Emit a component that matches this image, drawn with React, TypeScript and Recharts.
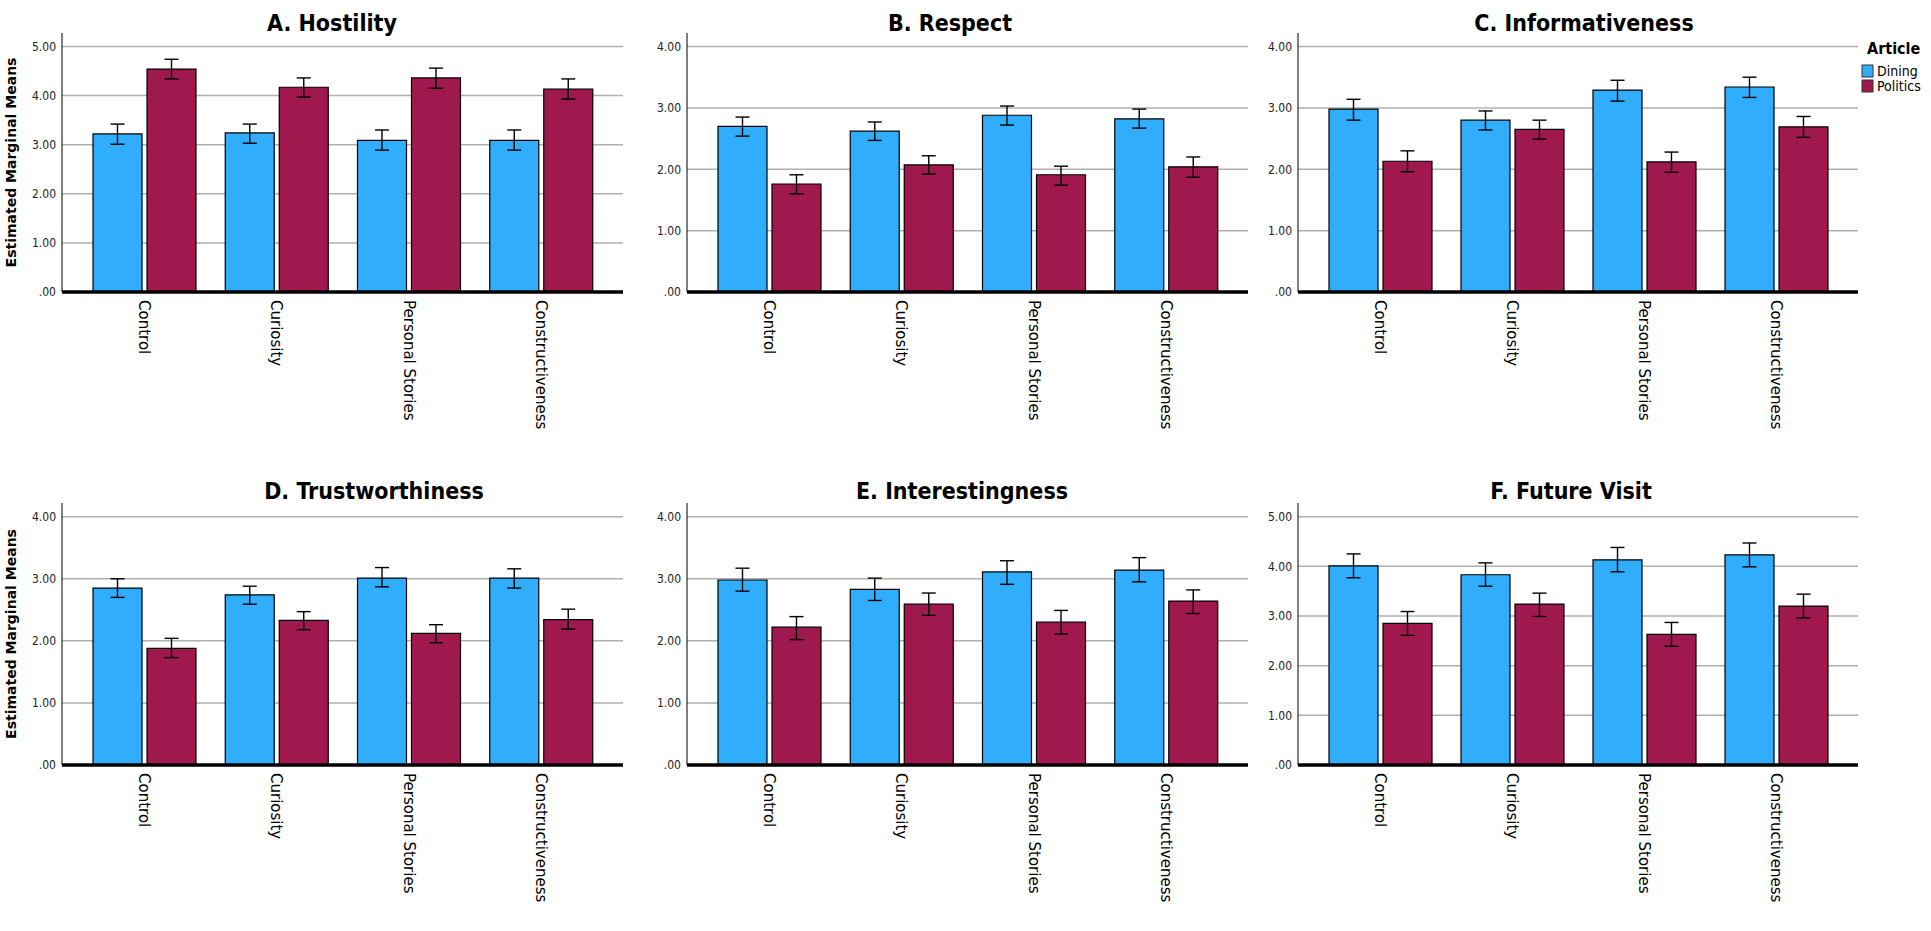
import React from "react";
import { BarChart, Bar, XAxis, YAxis, CartesianGrid, ErrorBar } from "recharts";

const categories = ["Control", "Curiosity", "Personal Stories", "Constructiveness"];

const hostilityDining = [3.22, 3.24, 3.09, 3.09];
const hostilityDiningCI = [[3.01, 3.42], [3.03, 3.42], [2.89, 3.3], [2.89, 3.3]];
const hostilityPolitics = [4.54, 4.17, 4.36, 4.13];
const hostilityPoliticsCI = [[4.34, 4.74], [3.97, 4.36], [4.15, 4.56], [3.93, 4.34]];

const respectDining = [2.7, 2.62, 2.88, 2.82];
const respectDiningCI = [[2.54, 2.85], [2.47, 2.77], [2.72, 3.03], [2.67, 2.98]];
const respectPolitics = [1.76, 2.07, 1.91, 2.04];
const respectPoliticsCI = [[1.6, 1.91], [1.92, 2.22], [1.74, 2.05], [1.87, 2.2]];

const informDining = [2.98, 2.8, 3.29, 3.34];
const informDiningCI = [[2.8, 3.14], [2.64, 2.95], [3.11, 3.45], [3.17, 3.5]];
const informPolitics = [2.13, 2.65, 2.12, 2.69];
const informPoliticsCI = [[1.96, 2.3], [2.49, 2.8], [1.95, 2.28], [2.52, 2.86]];

const trustDining = [2.85, 2.74, 3.01, 3.01];
const trustDiningCI = [[2.7, 3.0], [2.59, 2.88], [2.87, 3.18], [2.85, 3.16]];
const trustPolitics = [1.88, 2.33, 2.12, 2.34];
const trustPoliticsCI = [[1.73, 2.04], [2.18, 2.47], [1.97, 2.26], [2.19, 2.51]];

const interestDining = [2.98, 2.83, 3.11, 3.14];
const interestDiningCI = [[2.8, 3.17], [2.65, 3.01], [2.91, 3.29], [2.95, 3.34]];
const interestPolitics = [2.22, 2.59, 2.3, 2.64];
const interestPoliticsCI = [[2.02, 2.39], [2.41, 2.77], [2.11, 2.49], [2.44, 2.82]];

const visitDining = [4.01, 3.83, 4.13, 4.23];
const visitDiningCI = [[3.77, 4.25], [3.6, 4.07], [3.89, 4.38], [3.99, 4.47]];
const visitPolitics = [2.85, 3.24, 2.63, 3.2];
const visitPoliticsCI = [[2.61, 3.09], [2.99, 3.46], [2.39, 2.87], [2.96, 3.44]];

const ticksTo5 = [0, 1, 2, 3, 4, 5];
const ticksTo4 = [0, 1, 2, 3, 4];

const DINING = "#31adfd";
const POLITICS = "#a0194e";
const COND = "'DejaVu Sans Condensed', 'DejaVu Sans', sans-serif";
const SANS = "'DejaVu Sans', Verdana, sans-serif";

const cols = [
  { left: 0, width: 645, yWidth: 62, right: 22 },
  { left: 645, width: 620, yWidth: 42, right: 17 },
  { left: 1265, width: 666, yWidth: 33, right: 73 },
];
const rows = [
  { top: 0, height: 470, mTop: 33, mBottom: 38 },
  { top: 470, height: 461, mTop: 33, mBottom: 26 },
];

const panels = [
  { title: "A. Hostility", titleX: 332, dining: hostilityDining, diningCI: hostilityDiningCI, politics: hostilityPolitics, politicsCI: hostilityPoliticsCI, ticks: ticksTo5, row: 0, col: 0 },
  { title: "B. Respect", titleX: 950, dining: respectDining, diningCI: respectDiningCI, politics: respectPolitics, politicsCI: respectPoliticsCI, ticks: ticksTo4, row: 0, col: 1 },
  { title: "C. Informativeness", titleX: 1584, dining: informDining, diningCI: informDiningCI, politics: informPolitics, politicsCI: informPoliticsCI, ticks: ticksTo4, row: 0, col: 2 },
  { title: "D. Trustworthiness", titleX: 374, dining: trustDining, diningCI: trustDiningCI, politics: trustPolitics, politicsCI: trustPoliticsCI, ticks: ticksTo4, row: 1, col: 0 },
  { title: "E. Interestingness", titleX: 962, dining: interestDining, diningCI: interestDiningCI, politics: interestPolitics, politicsCI: interestPoliticsCI, ticks: ticksTo4, row: 1, col: 1 },
  { title: "F. Future Visit", titleX: 1571, dining: visitDining, diningCI: visitDiningCI, politics: visitPolitics, politicsCI: visitPoliticsCI, ticks: ticksTo5, row: 1, col: 2 },
];

const fmt = (v: number) => (v === 0 ? ".00" : v.toFixed(2));

const XTick = (props: any) => {
  const { x, y, payload } = props;
  return (
    <text
      x={x}
      y={y}
      transform={`rotate(90 ${x} ${y})`}
      textAnchor="start"
      dominantBaseline="central"
      fontFamily={SANS}
      fontSize={15}
      fill="#000"
    >
      {payload.value}
    </text>
  );
};

const YTitle = (props: any) => {
  const vb = props.viewBox || { x: 0, y: 0, height: 0 };
  const cx = 11;
  const cy = vb.y + vb.height / 2;
  return (
    <text
      x={cx}
      y={cy}
      transform={`rotate(-90 ${cx} ${cy})`}
      textAnchor="middle"
      dominantBaseline="central"
      fontFamily={SANS}
      fontWeight="bold"
      fontSize={14}
      fill="#000"
    >
      Estimated Marginal Means
    </text>
  );
};

function Panel({ p }: { p: any }) {
  const c = cols[p.col];
  const r = rows[p.row];
  const max = p.ticks[p.ticks.length - 1];
  const data = categories.map((name, i) => ({
    name,
    dining: p.dining[i],
    diningErr: [p.dining[i] - p.diningCI[i][0], p.diningCI[i][1] - p.dining[i]],
    politics: p.politics[i],
    politicsErr: [p.politics[i] - p.politicsCI[i][0], p.politicsCI[i][1] - p.politics[i]],
  }));

  return (
    <div style={{ position: "absolute", left: c.left, top: r.top }}>
      <BarChart
        width={c.width}
        height={r.height}
        data={data}
        margin={{ top: r.mTop, right: c.right, bottom: r.mBottom, left: 0 }}
        barSize={49}
        barGap={5}
      >
        <CartesianGrid
          vertical={false}
          horizontalValues={p.ticks.slice(1)}
          stroke="#b0b0b0"
          strokeWidth={1.5}
        />
        <Bar dataKey="dining" fill={DINING} stroke="#000" strokeWidth={1.2} isAnimationActive={false}>
          <ErrorBar dataKey="diningErr" width={7} stroke="#000" strokeWidth={1.4} />
        </Bar>
        <Bar dataKey="politics" fill={POLITICS} stroke="#000" strokeWidth={1.2} isAnimationActive={false}>
          <ErrorBar dataKey="politicsErr" width={7} stroke="#000" strokeWidth={1.4} />
        </Bar>
        <XAxis
          dataKey="name"
          axisLine={{ stroke: "#000", strokeWidth: 3.5 }}
          tickLine={false}
          tickSize={0}
          tickMargin={8}
          height={140}
          interval={0}
          padding={{ left: 16, right: 16 }}
          tick={<XTick />}
        />
        <YAxis
          width={c.yWidth}
          domain={[0, max * 1.055]}
          ticks={p.ticks}
          tickFormatter={fmt}
          axisLine={{ stroke: "#000", strokeWidth: 1 }}
          tickLine={false}
          tickSize={4}
          tickMargin={2}
          tick={{ fontFamily: COND, fontSize: 12, fill: "#222" }}
          label={p.col === 0 ? { content: <YTitle /> } : undefined}
        />
      </BarChart>
    </div>
  );
}

export default function App() {
  return (
    <div style={{ position: "absolute", left: 0, top: 0, width: 1931, height: 931, background: "#fff" }}>
      {panels.map((p) => (
        <Panel key={p.title} p={p} />
      ))}
      <svg width={1931} height={931} style={{ position: "absolute", left: 0, top: 0, pointerEvents: "none" }}>
        {panels.map((p) => (
          <text
            key={p.title}
            x={p.titleX}
            y={p.row === 0 ? 31 : 499}
            textAnchor="middle"
            fontFamily={COND}
            fontWeight="bold"
            fontSize={23}
            fill="#000"
          >
            {p.title}
          </text>
        ))}
        <text x={1867} y={54} fontFamily={COND} fontWeight="bold" fontSize={16} fill="#000">
          Article
        </text>
        <rect x={1862} y={65} width={11} height={12} fill={DINING} stroke="#333" strokeWidth={1} />
        <text x={1877} y={76} fontFamily={COND} fontSize={14} fill="#000">
          Dining
        </text>
        <rect x={1862} y={80} width={11} height={12} fill={POLITICS} stroke="#333" strokeWidth={1} />
        <text x={1877} y={91} fontFamily={COND} fontSize={14} fill="#000">
          Politics
        </text>
      </svg>
    </div>
  );
}
